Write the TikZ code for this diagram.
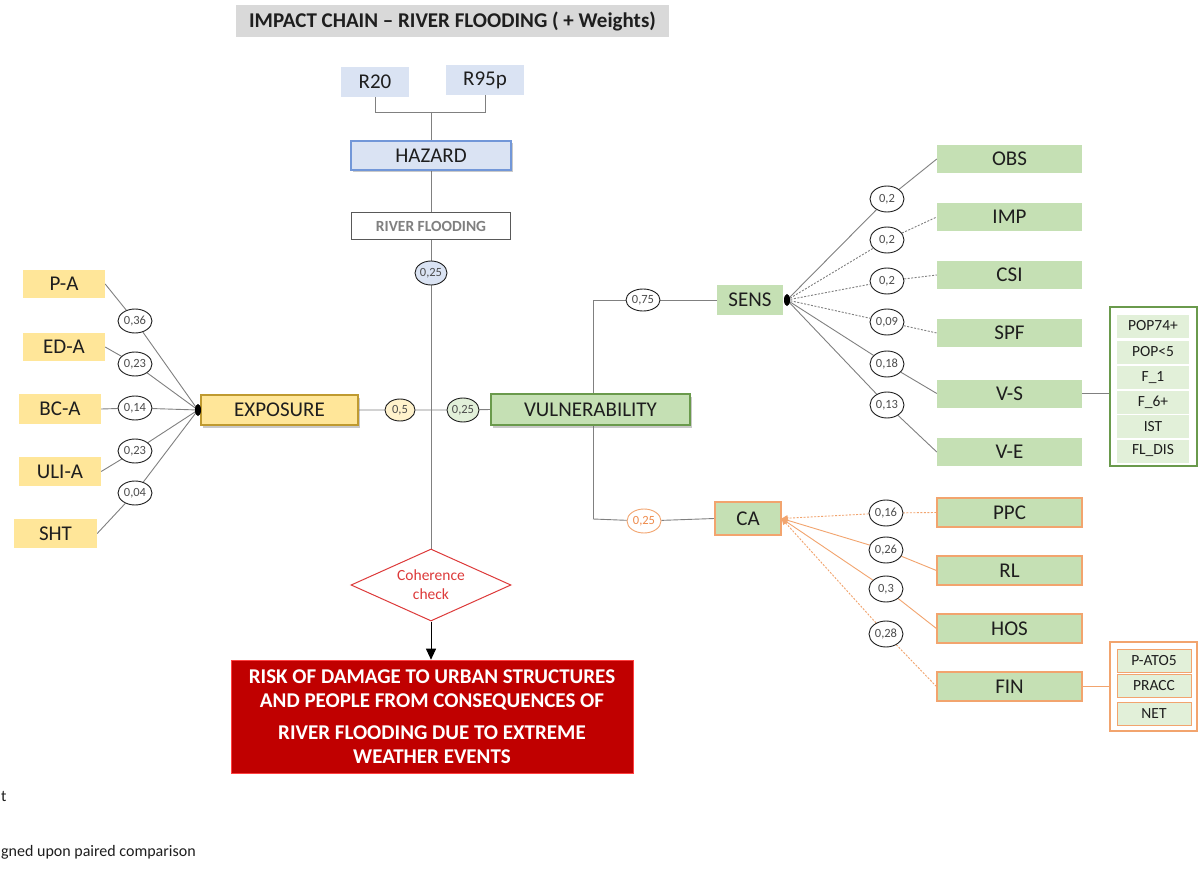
\documentclass[tikz,border=0pt]{standalone}
\usepackage{fontspec}
\setmainfont{Carlito}
\usetikzlibrary{shapes.geometric,shadows,arrows.meta,backgrounds}

\definecolor{titlegray}{HTML}{D9D9D9}
\definecolor{hazfill}{HTML}{DAE3F3}
\definecolor{hazline}{HTML}{7297D8}
\definecolor{expfill}{HTML}{FFE699}
\definecolor{expline}{HTML}{BF9A30}
\definecolor{vulfill}{HTML}{C5E0B4}
\definecolor{vulline}{HTML}{6A9A4C}
\definecolor{palegreen}{HTML}{E2F0D9}
\definecolor{paleyellow}{HTML}{FFF2CC}
\definecolor{orangeline}{HTML}{F2A46E}
\definecolor{orangetext}{HTML}{EE8A4A}
\definecolor{riskred}{HTML}{C00000}
\definecolor{cohred}{HTML}{DD3A3A}
\definecolor{linegray}{HTML}{808080}
\definecolor{inkdark}{HTML}{1E1E1E}
\definecolor{rfgray}{HTML}{808080}

\tikzset{
  lbl/.style={font=\fontsize{21}{25}\selectfont, text=inkdark},
  sbox/.style={rectangle, inner sep=0pt, lbl},
  hazbox/.style={sbox, fill=hazfill},
  expbox/.style={sbox, fill=expfill},
  vulbox/.style={sbox, fill=vulfill},
  cabox/.style={sbox, fill=vulfill, draw=orangeline, line width=1.2pt},
  subitem/.style={rectangle, inner sep=0pt, fill=palegreen, minimum width=72pt,
    minimum height=23pt, font=\fontsize{15.5}{18}\selectfont, text=inkdark},
  frame/.style={rectangle, inner sep=0pt, fill=white, line width=1.2pt},
  shade/.style={drop shadow={shadow xshift=2pt, shadow yshift=-2.5pt,
    opacity=0.35, fill=black!60}},
  wt/.style={ellipse, draw=inkdark, fill=white, line width=0.9pt, inner sep=0pt,
    minimum width=34pt, minimum height=24pt,
    font=\fontsize{12.5}{14}\selectfont, text=black!70},
  joint/.style={ellipse, fill=black, inner sep=0pt, minimum width=6pt, minimum height=12pt},
  conn/.style={draw=linegray, line width=0.9pt},
  dconn/.style={conn, dash pattern=on 2pt off 1.5pt},
  oconn/.style={draw=orangeline, line width=0.9pt, -{Triangle[length=6pt,width=6pt]}},
  odconn/.style={oconn, dash pattern=on 2pt off 1.5pt},
}

\begin{document}
\begin{tikzpicture}[x=1pt, y=-1pt]
\useasboundingbox (0,0) rectangle (1202,869);

% ---------- title ----------
\node[rectangle, fill=titlegray, minimum width=433pt, minimum height=32pt,
  font=\bfseries\fontsize{21}{24}\selectfont, text=inkdark] (title) at (452.5,21)
  {IMPACT CHAIN -- RIVER FLOODING ( + Weights)};

% ---------- hazard column ----------
\node[hazbox, minimum width=68pt, minimum height=30pt] (r20) at (375,82) {R20};
\node[hazbox, minimum width=78pt, minimum height=30pt] (r95) at (485,80) {R95p};
\coordinate (hj) at (431,112);
\node[hazbox, draw=hazline, line width=1.2pt, shade, minimum width=160pt,
  minimum height=29pt] (haz) at (431,155.5) {HAZARD};
\node[rectangle, draw=black!65, fill=white, line width=1pt, minimum width=159pt,
  minimum height=27pt, font=\bfseries\fontsize{15.5}{18}\selectfont, text=rfgray]
  (rf) at (431,226.5) {RIVER FLOODING};
\node[wt, fill=hazfill, minimum width=32pt] (wh) at (431,273) {0,25};

\node[diamond, draw=cohred, fill=white, line width=1pt, aspect=2.2, inner sep=0pt,
  minimum width=160pt, minimum height=72pt, align=center,
  font=\fontsize{15.5}{19}\selectfont, text=cohred] (coh) at (431,585)
  {Coherence\\check};

\node[rectangle, fill=riskred, draw=red!75!white, line width=0.6pt,
  minimum width=402pt, minimum height=113pt, align=center,
  font=\bfseries\fontsize{21}{24}\selectfont, text=white] (risk) at (432,716.5)
  {RISK OF DAMAGE TO URBAN STRUCTURES\\AND PEOPLE FROM CONSEQUENCES OF\\[8pt]
   RIVER FLOODING DUE TO EXTREME\\WEATHER EVENTS};

% ---------- exposure ----------
\node[expbox, minimum width=82pt, minimum height=28pt] (pa)  at (64,284) {P-A};
\node[expbox, minimum width=82pt, minimum height=28pt] (eda) at (64,347) {ED-A};
\node[expbox, minimum width=82pt, minimum height=30pt] (bca) at (60,409) {BC-A};
\node[expbox, minimum width=82pt, minimum height=29pt] (ula) at (60,471.5) {ULI-A};
\node[expbox, minimum width=83pt, minimum height=29pt] (sht) at (55.5,533.5) {SHT};

\node[wt] (e1) at (135,321) {0,36};
\node[wt] (e2) at (135,364) {0,23};
\node[wt] (e3) at (135,408) {0,14};
\node[wt] (e4) at (135,451) {0,23};
\node[wt] (e5) at (135,493) {0,04};

\node[expbox, draw=expline, line width=1.2pt, shade, minimum width=157pt,
  minimum height=30pt] (exp) at (279.5,410) {EXPOSURE};
\node[joint] (edot) at (198,410) {};

\node[wt, fill=paleyellow, minimum width=30pt, minimum height=22pt] (w05) at (400,410) {0,5};
\node[wt, fill=palegreen, minimum width=32pt] (w25v) at (463,410) {0,25};

% ---------- vulnerability ----------
\node[vulbox, draw=vulline, line width=1.2pt, shade, minimum width=199pt,
  minimum height=31pt] (vul) at (590.5,409.5) {VULNERABILITY};
\coordinate (vt) at (593,300);
\coordinate (vb) at (593,519);

\node[wt, minimum height=22pt] (w75) at (643,300) {0,75};
\node[vulbox, minimum width=66pt, minimum height=30pt] (sens) at (750,300) {SENS};
\node[joint] (sdot) at (787,300) {};

\node[wt, draw=orangeline, text=orangetext] (w25c) at (644,521) {0,25};
\node[cabox, minimum width=66pt, minimum height=33pt] (ca) at (748,518.5)
  {CA\hspace{22pt}};

% sensitivity indicators
\foreach \nm/\txt/\yy in {obs/OBS/159, imp/IMP/217, csi/CSI/275, spf/SPF/333,
                          vs/V-S/393.5, ve/V-E/452}{
  \node[vulbox, minimum width=145pt, minimum height=28pt] (\nm) at (1009.5,\yy) {\txt};
}
\node[wt, minimum height=26pt] (s1) at (887,199) {0,2};
\node[wt, minimum height=26pt] (s2) at (887,240) {0,2};
\node[wt, minimum height=26pt] (s3) at (887,281) {0,2};
\node[wt, minimum height=26pt] (s4) at (887,322) {0,09};
\node[wt, minimum height=26pt] (s5) at (887,364) {0,18};
\node[wt, minimum height=26pt] (s6) at (887,405) {0,13};

% V-S components
\node[frame, draw=vulline, minimum width=87pt, minimum height=159pt] (vsf) at (1153.5,386.5) {};
\node[subitem] (pop74) at (1153,326) {POP74+};
\node[subitem] (pop5)  at (1153,352) {POP<5};
\node[subitem] (f1)    at (1153,377.5) {F\_1};
\node[subitem] (f6)    at (1153,402) {F\_6+};
\node[subitem] (ist)   at (1153,426.5) {IST};
\node[subitem] (fldis) at (1153,451) {FL\_DIS};

% adaptive capacity indicators
\foreach \nm/\txt/\yy in {ppc/PPC/512.5, rl/RL/570.5, hos/HOS/628.5, fin/FIN/686.5}{
  \node[cabox, minimum width=145pt, minimum height=29pt] (\nm) at (1009.5,\yy) {\txt};
}
\node[wt, minimum height=26pt] (c1) at (886,513) {0,16};
\node[wt, minimum height=26pt] (c2) at (886,550) {0,26};
\node[wt, minimum height=26pt] (c3) at (886,589) {0,3};
\node[wt, minimum height=26pt] (c4) at (886,634) {0,28};

% FIN components
\node[frame, draw=orangeline, minimum width=87pt, minimum height=89pt] (finf) at (1153.5,686.5) {};
\node[subitem, draw=orangeline, line width=1pt, minimum width=74pt] (pato) at (1154,660.5) {P-ATO5};
\node[subitem, draw=orangeline, line width=1pt, minimum width=74pt] (pracc) at (1154,685.5) {PRACC};
\node[subitem, draw=orangeline, line width=1pt, minimum width=74pt] (net) at (1154,713.5) {NET};

% legend fragments at the left edge
\node[anchor=west, inner sep=0pt, font=\fontsize{16}{19}\selectfont, text=inkdark] (lg1) at (1,796) {t};
\node[anchor=west, inner sep=0pt, font=\fontsize{16}{19}\selectfont, text=inkdark] (lg2) at (1,852) {gned upon paired comparison};

% ---------- connectors (behind the boxes) ----------
\begin{scope}[on background layer]
  \fill[white] (0,0) rectangle (1202,869);
  % hazard
  \draw[conn] (r20.south) |- (hj);
  \draw[conn] (r95.south) |- (hj);
  \draw[conn] (hj) -- (haz.north);
  \draw[conn] (haz.south) -- (rf.north);
  \draw[conn] (rf.south) -- (wh) -- (coh.north);
  \draw[draw=black, line width=0.9pt, -{Triangle[length=11pt,width=10pt]}]
    (coh.south) -- (coh.south |- risk.north);
  % exposure
  \draw[conn] (pa.east)  -- (e1) -- (edot.center);
  \draw[conn] (eda.east) -- (e2) -- (edot.center);
  \draw[conn] (bca.east) -- (e3) -- (edot.center);
  \draw[conn] (ula.east) -- (e4) -- (edot.center);
  \draw[conn] (sht.east) -- (e5) -- (edot.center);
  \draw[conn] (exp.east) -- (w05) -- (w25v) -- (vul.west);
  % vulnerability branches
  \draw[conn] (vt) -- (vb);
  \draw[conn] (vt) -- (w75) -- (sens.west);
  \draw[conn] (vb) -- (w25c) -- (ca.west);
  % sensitivity
  \draw[conn]  (sdot.center) -- (s1) -- (obs.west);
  \draw[dconn] (sdot.center) -- (s2) -- (imp.west);
  \draw[dconn] (sdot.center) -- (s3) -- (csi.west);
  \draw[dconn] (sdot.center) -- (s4) -- (spf.west);
  \draw[conn]  (sdot.center) -- (s5) -- (vs.west);
  \draw[conn]  (sdot.center) -- (s6) -- (ve.west);
  \draw[conn] (vs.east) -- (vsf.west |- vs.east);
  % adaptive capacity
  \draw[odconn] (ppc.west) -- (c1) -- (ca.east);
  \draw[oconn]  (rl.west)  -- (c2) -- (ca.east);
  \draw[oconn]  (hos.west) -- (c3) -- (ca.east);
  \draw[odconn] (fin.west) -- (c4) -- (ca.east);
  \draw[draw=orangeline, line width=0.9pt] (fin.east) -- (finf.west |- fin.east);
\end{scope}
\end{tikzpicture}
\end{document}
